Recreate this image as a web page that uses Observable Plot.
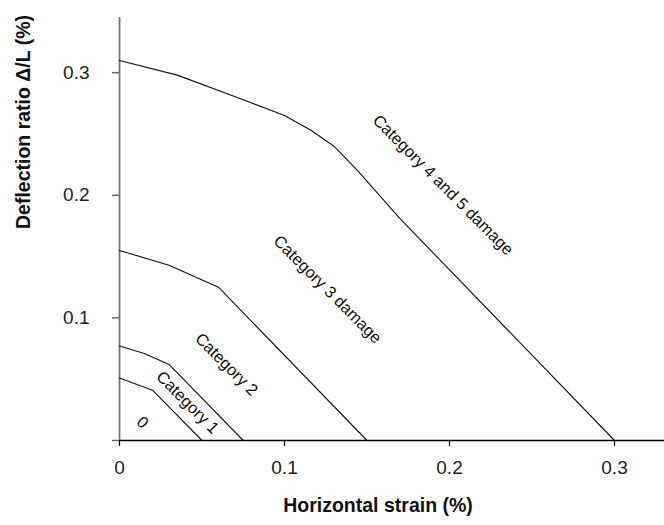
<!DOCTYPE html>
<html><head><meta charset="utf-8">
<script src="https://cdn.jsdelivr.net/npm/d3@7"></script>
<script src="https://cdn.jsdelivr.net/npm/@observablehq/plot@0.6"></script>
<style>body{margin:0;background:#fff;} svg{display:block}</style>
</head><body><div id="chart"></div>
<script>
// Damage category boundaries: horizontal strain (%) vs deflection ratio (%)
const boundaryNames = ["0/1", "1/2", "2/3", "3/4"];
const boundary01Strain = [0, 0.02, 0.05];
const boundary01Defl   = [0.051, 0.041, 0];
const boundary12Strain = [0, 0.015, 0.03, 0.075];
const boundary12Defl   = [0.077, 0.071, 0.062, 0];
const boundary23Strain = [0, 0.03, 0.06, 0.15];
const boundary23Defl   = [0.155, 0.143, 0.125, 0];
const boundary34Strain = [0, 0.035, 0.071, 0.1, 0.116, 0.13, 0.145, 0.17, 0.3];
const boundary34Defl   = [0.31, 0.298, 0.28, 0.265, 0.253, 0.24, 0.219, 0.181, 0];

// Region labels
const regionLabels = ["0", "Category 1", "Category 2", "Category 3 damage", "Category 4 and 5 damage"];
const regionLabelStrain = [0.0139, 0.0412, 0.0648, 0.1261, 0.1961];
const regionLabelDefl   = [0.0147, 0.031, 0.062, 0.1231, 0.2083];

// Ticks
const xTicks = [0, 0.1, 0.2, 0.3];
const xTickLabels = ["0", "0.1", "0.2", "0.3"];
const yTicks = [0, 0.1, 0.2, 0.3];
const yTickLabels = ["", "0.1", "0.2", "0.3"];
const xTitle = "Horizontal strain (%)";
const yTitle = "Deflection ratio \u0394/L (%)";

const strains = [boundary01Strain, boundary12Strain, boundary23Strain, boundary34Strain];
const defls = [boundary01Defl, boundary12Defl, boundary23Defl, boundary34Defl];
const lines = [];
boundaryNames.forEach((name, k) => {
  strains[k].forEach((s, i) => lines.push({boundary: name, strain: s, defl: defls[k][i]}));
});
const labels = regionLabels.map((t, i) => ({text: t, strain: regionLabelStrain[i], defl: regionLabelDefl[i]}));

const chart = Plot.plot({
  width: 664, height: 525,
  marginLeft: 119, marginRight: 0, marginTop: 17, marginBottom: 85,
  style: {fontFamily: "'Liberation Sans', Arial, sans-serif", background: "#fff", color: "#222"},
  x: {domain: [0, 0.3303]},
  y: {domain: [0, 0.345]},
  marks: [
    Plot.axisX({ticks: xTicks, tickSize: 6, tickPadding: 14, tickFormat: (d, i) => xTickLabels[i],
                fontSize: 19, label: null, stroke: "#000", strokeWidth: 1.2}),
    Plot.axisY({ticks: yTicks, tickSize: 7, tickPadding: 23, tickFormat: (d, i) => yTickLabels[i],
                fontSize: 19, label: null, stroke: "#666", strokeWidth: 1.5}),
    Plot.ruleY([0], {stroke: "#000", strokeWidth: 1.4}),
    Plot.ruleX([0], {stroke: "#777", strokeWidth: 1.8}),
    Plot.line(lines, {x: "strain", y: "defl", z: "boundary", stroke: "#111", strokeWidth: 1.1}),
    Plot.text(labels, {x: "strain", y: "defl", text: "text", rotate: 45, fontSize: 16.5, fill: "#111"}),
    Plot.text([xTitle], {frameAnchor: "bottom", dx: -14, dy: 71, fontSize: 19.5, fontWeight: "bold", fill: "#111"}),
    Plot.text([yTitle], {frameAnchor: "left", dx: -96, rotate: -90, fontSize: 19.5, fontWeight: "bold", fill: "#111"})
  ]
});
document.getElementById("chart").append(chart);
</script>
</body></html>
